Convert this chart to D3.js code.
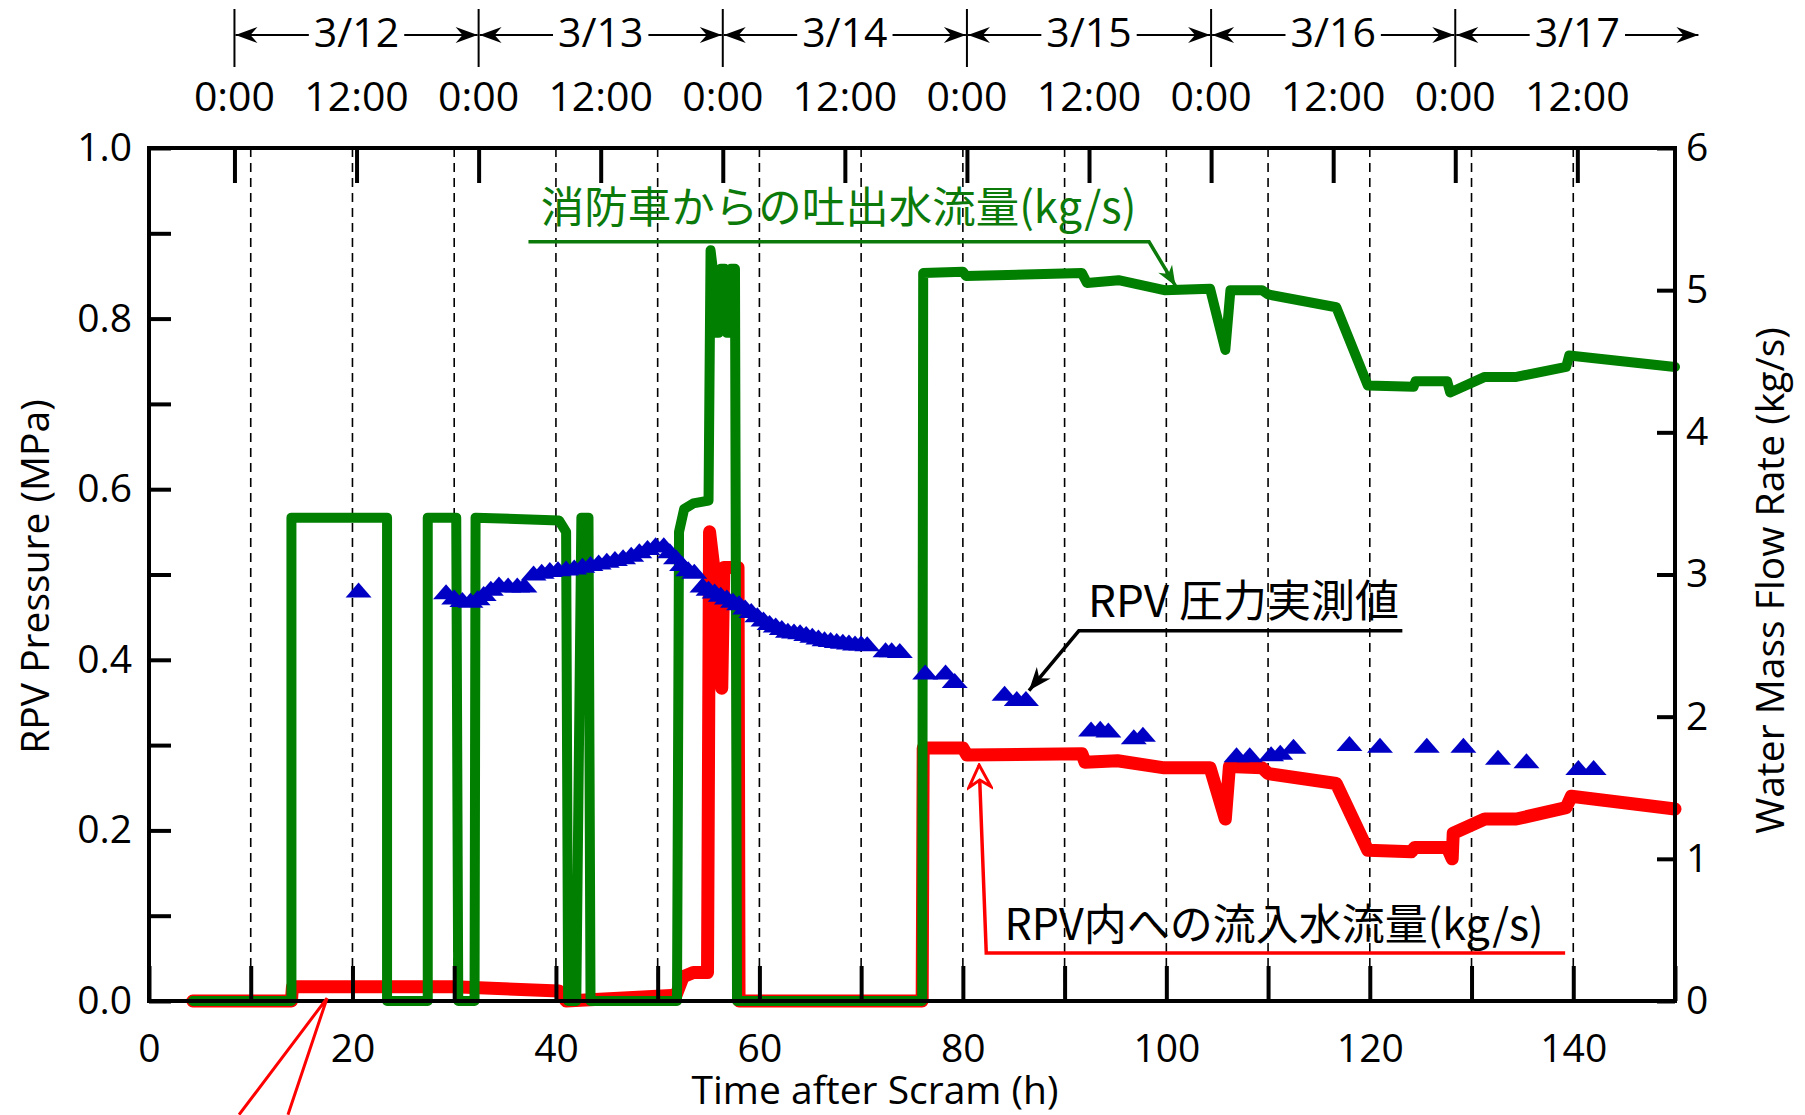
<!DOCTYPE html>
<meta charset="utf-8">
<style>
body { margin: 0; background: #fff; }
text { font-family: "Open Sans", sans-serif; fill: #000; }
.jp { font-family: "Noto Sans CJK JP", sans-serif; }
.grid line { stroke: #000; stroke-width: 1.6; stroke-dasharray: 9,6; }
</style>
<body>
<script src="https://d3js.org/d3.v7.min.js"></script>
<script>

// ---- data ----
// hours after scram, fire engine discharge flow (kg/s)
var engineFlow = [
  [4.3,0],[14.0,0],[14.0,3.40],[23.4,3.40],[23.4,0],[27.4,0],[27.4,3.40],[30.2,3.40],[30.4,0],
  [32.0,0],[32.1,3.40],[40.3,3.38],[41.0,3.30],[41.2,0],[42.0,0],[42.5,3.40],[43.2,3.40],[43.4,0],
  [51.9,0],[52.1,3.30],[52.6,3.46],[53.5,3.50],[55.0,3.52],[55.2,5.28],[55.5,5.10],[55.8,4.70],
  [56.0,4.70],[56.2,5.15],[56.6,5.15],[56.8,4.70],[57.0,4.70],[57.2,5.15],[57.6,5.15],[57.8,0],
  [76.0,0],[76.1,5.12],[80.0,5.13],[80.3,5.10],[91.7,5.12],[92.2,5.05],[95.3,5.07],[99.8,5.00],
  [104.3,5.01],[105.8,4.58],[106.3,5.00],[109.4,5.00],[110.0,4.97],[116.7,4.88],[119.8,4.33],
  [124.3,4.32],[124.5,4.36],[127.6,4.36],[127.9,4.28],[131.3,4.39],[134.4,4.39],[139.3,4.46],
  [139.6,4.54],[150,4.46]
];

// hours after scram, flow into the RPV (kg/s)
var rpvInflow = [
  [4.3,0],[14.0,0],[14.1,0.10],[30.0,0.10],[40.3,0.07],[41.0,0],[51.8,0.04],[52.5,0.17],[53.5,0.20],
  [54.9,0.20],[55.1,3.30],[55.6,3.00],[56.0,3.00],[56.3,2.20],[56.5,3.05],[57.9,3.05],[58.0,0],
  [76.0,0],[76.1,1.78],[80.0,1.78],[80.4,1.73],[91.7,1.74],[92.0,1.68],[95.2,1.69],[99.8,1.64],
  [104.3,1.64],[105.8,1.28],[106.2,1.65],[109.4,1.64],[110.0,1.60],[116.7,1.53],[119.8,1.06],
  [124.1,1.05],[124.4,1.08],[127.6,1.08],[128.1,1.00],[128.2,1.18],[131.3,1.28],[134.4,1.28],
  [139.3,1.36],[139.8,1.44],[150,1.35]
];

// hours after scram, measured RPV pressure (MPa)
var rpvPressure = [
  [20.6,0.480],
  [29.2,0.478],[30.0,0.472],[30.8,0.469],[31.6,0.468],[32.3,0.471],[32.9,0.476],[33.6,0.482],
  [34.4,0.487],[35.3,0.486],[36.2,0.486],[36.9,0.486],
  [37.8,0.500],[38.6,0.502],[39.4,0.504],[40.2,0.505],[41.0,0.506],[41.8,0.507],[42.6,0.509],
  [43.4,0.511],[44.2,0.513],[45.0,0.515],[45.8,0.517],[46.6,0.519],[47.4,0.522],[48.2,0.526],
  [49.0,0.530],[49.8,0.533],[50.6,0.533],[51.2,0.526],[51.8,0.519],[52.4,0.511],[53.0,0.505],
  [53.6,0.502],
  [54.4,0.486],[55.0,0.482],[55.6,0.479],[56.2,0.475],[56.8,0.472],[57.4,0.468],[58.0,0.465],
  [58.6,0.460],[59.2,0.456],[59.8,0.451],[60.4,0.446],[61.0,0.442],[61.6,0.439],[62.2,0.436],
  [62.8,0.433],[63.4,0.432],[64.0,0.431],[64.6,0.429],[65.2,0.427],[65.8,0.425],[66.4,0.423],
  [67.0,0.422],[67.6,0.421],[68.2,0.420],[68.8,0.419],[69.4,0.418],[70.0,0.418],[70.6,0.417],
  [72.4,0.410],[73.0,0.410],[73.8,0.409],
  [76.3,0.384],[78.3,0.384],[79.2,0.374],[84.1,0.359],[85.3,0.353],[86.2,0.353],
  [92.6,0.317],[93.5,0.318],[94.3,0.316],[96.8,0.308],[97.7,0.311],
  [106.9,0.287],[108.2,0.287],[110.3,0.288],[111.2,0.290],[112.5,0.297],[118.0,0.300],
  [121.0,0.298],[125.6,0.298],[129.2,0.298],[132.6,0.284],[135.4,0.280],[140.5,0.272],[142.0,0.272]
];

// axis ticks
var pressureTicks = [0,0.1,0.2,0.3,0.4,0.5,0.6,0.7,0.8,0.9,1.0];
var pressureLabels = [0,0.2,0.4,0.6,0.8,1.0];
var flowTicks = [0,1,2,3,4,5,6];
var hourTicks = [0,10,20,30,40,50,60,70,80,90,100,110,120,130,140,150];
var hourLabels = [0,20,40,60,80,100,120,140];
var gridHours = [10,20,30,40,50,60,70,80,90,100,110,120,130,140];

// clock ticks along the top (hours after scram)
var clockHours = [8.4,20.4,32.4,44.4,56.4,68.4,80.4,92.4,104.4,116.4,128.4,140.4];
var clockLabels = ["0:00","12:00","0:00","12:00","0:00","12:00","0:00","12:00","0:00","12:00","0:00","12:00"];
var dayStarts = [8.4,32.4,56.4,80.4,104.4,128.4,152.4];
var dayLabels = ["3/12","3/13","3/14","3/15","3/16","3/17"];

// ---- layout ----
var width = 1805, height = 1115;
var plot = {left: 149, right: 1675, top: 148, bottom: 1001};

var x = d3.scaleLinear().domain([0, 150]).range([plot.left, plot.right]);
var yP = d3.scaleLinear().domain([0, 1]).range([plot.bottom, plot.top]);
var yF = d3.scaleLinear().domain([0, 6]).range([plot.bottom, plot.top]);

var svg = d3.select("body").append("svg")
    .attr("width", width)
    .attr("height", height);

var defs = svg.append("defs");
function marker(id, color, path, fill) {
  defs.append("marker")
      .attr("id", id)
      .attr("viewBox", "-26 -13 28 26")
      .attr("markerUnits", "userSpaceOnUse")
      .attr("markerWidth", 28).attr("markerHeight", 26)
      .attr("refX", 0).attr("refY", 0)
      .attr("orient", "auto-start-reverse")
    .append("path")
      .attr("d", path)
      .attr("fill", fill)
      .attr("stroke", color)
      .attr("stroke-width", fill === "#fff" ? 3 : 0);
}
marker("arrBlack", "#000", "M0,0 L-22,-8 L-15,0 L-22,8 Z", "#000");
marker("arrGreen", "#0b7a0b", "M0,0 L-20,-8 L-14,0 L-20,8 Z", "#0b7a0b");
marker("arrNote", "#000", "M0,0 L-23,-9 L-16,0 L-23,9 Z", "#000");
marker("arrRed", "#ff0000", "M0,0 L-22,-11 L-15,0 L-22,11 Z", "#fff");

// dashed gridlines
svg.append("g")
    .attr("class", "grid")
  .selectAll("line")
  .data(gridHours)
  .enter().append("line")
    .attr("x1", function(d) { return x(d); })
    .attr("x2", function(d) { return x(d); })
    .attr("y1", plot.top)
    .attr("y2", plot.bottom);

// series lines
var line = d3.line()
    .x(function(d) { return x(d[0]); })
    .y(function(d) { return yF(d[1]); });

svg.append("path")
    .datum(rpvInflow)
    .attr("d", line)
    .attr("fill", "none")
    .attr("stroke", "#ff0000")
    .attr("stroke-width", 13)
    .attr("stroke-linejoin", "round")
    .attr("stroke-linecap", "round");

svg.append("path")
    .datum(engineFlow)
    .attr("d", line)
    .attr("fill", "none")
    .attr("stroke", "#007f00")
    .attr("stroke-width", 10)
    .attr("stroke-linejoin", "round")
    .attr("stroke-linecap", "round");

// pressure triangles
svg.append("g").selectAll("path")
    .data(rpvPressure)
    .enter().append("path")
    .attr("d", "M0,-9 L13,6 L-13,6 Z")
    .attr("transform", function(d) { return "translate(" + x(d[0]) + "," + yP(d[1]) + ")"; })
    .attr("fill", "#0000c4");

// axes
function styleAxis(g, size) {
  g.select(".domain").remove();
  g.selectAll(".tick line").attr("stroke", "#000").attr("stroke-width", 4);
  g.selectAll(".tick text").attr("font-family", "Open Sans").attr("font-size", size).attr("fill", "#000");
}

svg.append("g")
    .attr("transform", "translate(" + plot.left + ",0)")
    .call(d3.axisLeft(yP).tickValues(pressureTicks).tickSize(-22).tickPadding(17)
      .tickFormat(function(d) {
        return pressureLabels.some(function(v) { return Math.abs(v - d) < 1e-6; }) ? d3.format(".1f")(d) : "";
      }))
    .call(function(g) { styleAxis(g, 39); });

svg.append("g")
    .attr("transform", "translate(" + plot.right + ",0)")
    .call(d3.axisRight(yF).tickValues(flowTicks).tickSize(-18).tickPadding(11).tickFormat(d3.format("d")))
    .call(function(g) { styleAxis(g, 39); });

svg.append("g")
    .attr("transform", "translate(0," + plot.bottom + ")")
    .call(d3.axisBottom(x).tickValues(hourTicks).tickSize(-35).tickPadding(33)
      .tickFormat(function(d) { return hourLabels.indexOf(d) >= 0 ? d : ""; }))
    .call(function(g) { styleAxis(g, 39); });

svg.append("g")
    .attr("transform", "translate(0," + plot.top + ")")
    .call(d3.axisTop(x).tickValues(clockHours).tickSize(-35).tickFormat(""))
    .call(function(g) { styleAxis(g, 39); });

// frame
svg.append("rect")
    .attr("x", plot.left).attr("y", plot.top)
    .attr("width", plot.right - plot.left)
    .attr("height", plot.bottom - plot.top)
    .attr("fill", "none")
    .attr("stroke", "#000")
    .attr("stroke-width", 4);

// axis titles
svg.append("text")
    .attr("transform", "translate(33," + ((plot.top + plot.bottom) / 2 + 2) + ") rotate(-90)")
    .attr("text-anchor", "middle")
    .attr("dominant-baseline", "central")
    .attr("font-size", 39)
    .text("RPV Pressure (MPa)");

svg.append("text")
    .attr("transform", "translate(1768," + ((plot.top + plot.bottom) / 2 + 6) + ") rotate(-90)")
    .attr("text-anchor", "middle")
    .attr("dominant-baseline", "central")
    .attr("font-size", 39)
    .text("Water Mass Flow Rate (kg/s)");

svg.append("text")
    .attr("x", 875).attr("y", 1088)
    .attr("text-anchor", "middle")
    .attr("dominant-baseline", "central")
    .attr("font-size", 39)
    .text("Time after Scram (h)");

// clock labels on top
svg.append("g").selectAll("text")
    .data(clockHours)
    .enter().append("text")
    .attr("x", function(d) { return x(d); })
    .attr("y", 95)
    .attr("text-anchor", "middle")
    .attr("dominant-baseline", "central")
    .attr("font-size", 41)
    .text(function(d, i) { return clockLabels[i]; });

// day ranges with arrows
var dayG = svg.append("g");
dayG.selectAll("line.sep")
    .data(dayStarts.slice(0, dayLabels.length))
    .enter().append("line")
    .attr("x1", function(d) { return x(d); })
    .attr("x2", function(d) { return x(d); })
    .attr("y1", 9).attr("y2", 67)
    .attr("stroke", "#000").attr("stroke-width", 2);

dayLabels.forEach(function(lab, i) {
  var x0 = x(dayStarts[i]), x1 = x(dayStarts[i + 1]);
  var t = dayG.append("text")
      .attr("x", (x0 + x1) / 2).attr("y", 31)
      .attr("text-anchor", "middle")
      .attr("dominant-baseline", "central")
      .attr("font-size", 41)
      .text(lab);
  var bb = t.node().getBBox();
  dayG.append("line")
      .attr("x1", bb.x - 5).attr("x2", x0 + 1)
      .attr("y1", 35).attr("y2", 35)
      .attr("stroke", "#000").attr("stroke-width", 2)
      .attr("marker-end", "url(#arrBlack)");
  dayG.append("line")
      .attr("x1", bb.x + bb.width + 5).attr("x2", x1 - 1)
      .attr("y1", 35).attr("y2", 35)
      .attr("stroke", "#000").attr("stroke-width", 2)
      .attr("marker-end", "url(#arrBlack)");
});

// ---- annotations (positions in data units) ----
var notes = svg.append("g");

// fire engine discharge flow
notes.append("text")
    .attr("class", "jp")
    .attr("x", x(38.5)).attr("y", yF(5.60))
    .attr("dominant-baseline", "central")
    .attr("font-size", 43.5)
    .style("fill", "#0b7a0b")
    .text("消防車からの吐出水流量(kg/s)");
notes.append("path")
    .attr("d", d3.line()([[x(37.3), yF(5.34)], [x(98.3), yF(5.34)], [x(100.9), yF(5.03)]]))
    .attr("fill", "none").attr("stroke", "#0b7a0b").attr("stroke-width", 3.5)
    .attr("marker-end", "url(#arrGreen)");

// measured RPV pressure
notes.append("text")
    .attr("class", "jp")
    .attr("x", x(92.3)).attr("y", yP(0.4725))
    .attr("dominant-baseline", "central")
    .attr("font-size", 44)
    .text("RPV 圧力実測値");
notes.append("path")
    .attr("d", d3.line()([[x(123.2), yP(0.434)], [x(91.4), yP(0.434)], [x(86.5), yP(0.364)]]))
    .attr("fill", "none").attr("stroke", "#000").attr("stroke-width", 3.5)
    .attr("marker-end", "url(#arrNote)");

// flow into RPV
notes.append("text")
    .attr("class", "jp")
    .attr("x", x(84.1)).attr("y", yF(0.563))
    .attr("dominant-baseline", "central")
    .attr("font-size", 43)
    .text("RPV内への流入水流量(kg/s)");
notes.append("path")
    .attr("d", d3.line()([[x(139.2), yF(0.338)], [x(82.3), yF(0.338)], [x(81.6), yF(1.66)]]))
    .attr("fill", "none").attr("stroke", "#ff0000").attr("stroke-width", 3.5)
    .attr("marker-end", "url(#arrRed)");

// leaders to a label below the chart
notes.append("path")
    .attr("d", d3.line()([[x(8.85), yF(-0.8)], [x(17.5), yF(0.02)], [x(13.66), yF(-0.8)]]))
    .attr("fill", "none").attr("stroke", "#ff0000").attr("stroke-width", 3);

</script>
</body>
